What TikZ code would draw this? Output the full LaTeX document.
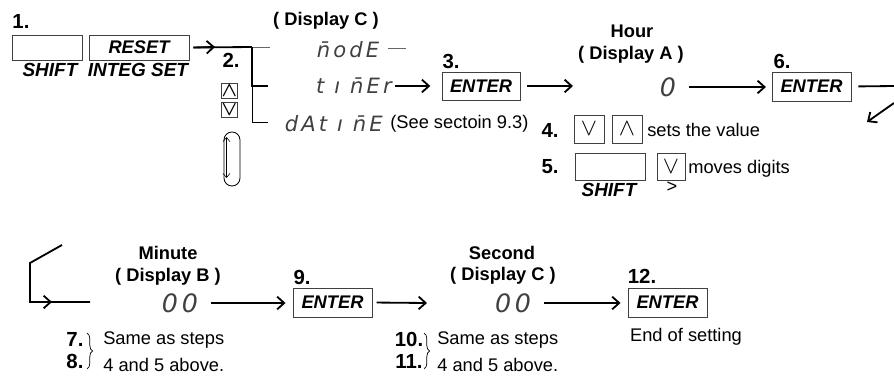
\documentclass[tikz,border=0pt]{standalone}
\usepackage{fontspec}
\setmainfont{Liberation Sans}
\newfontfamily\segfuente{DejaVu Sans}[LetterSpace=15]
\usetikzlibrary{arrows.meta, calc, positioning, decorations.pathreplacing}
\tikzset{
    tecla/.style={draw=black!75, line width=0.6pt, inner sep=0pt, font=\bfseries\itshape\fontsize{13}{13}\selectfont},
    flechita/.style={draw=black!75, line width=0.6pt, inner sep=0pt, font=\boldmath\fontsize{14}{14}\selectfont},
    flechota/.style={draw=black!75, line width=0.6pt, inner sep=0pt, font=\fontsize{17}{17}\selectfont},
    nombre/.style={font=\bfseries\itshape\fontsize{13.5}{13.5}\selectfont, inner sep=0pt},
    paso/.style={font=\bfseries\fontsize{14.5}{14.5}\selectfont, inner sep=0pt},
    rotulo/.style={font=\bfseries\fontsize{13}{13}\selectfont, inner sep=0pt},
    texto/.style={font=\fontsize{13}{13}\selectfont, inner sep=0pt},
    pantalla/.style={font=\segfuente\itshape\fontsize{15}{15}\selectfont, text=black!75, inner sep=0pt},
    digitos/.style={font=\segfuente\itshape\fontsize{18}{18}\selectfont, text=black!75, inner sep=0pt},
    flecha/.style={line width=1.3pt, -{Straight Barb[length=5pt,width=9pt]}},
    linea/.style={line width=1.3pt},
}

\begin{document}
\begin{tikzpicture}[x=0.025cm, y=-0.025cm]
\useasboundingbox (0,0) rectangle (894,381);

% Paso 1: SHIFT + RESET
\node[paso] (p1) at (21,21) {1.};
\node[tecla, minimum width=1.75cm, minimum height=0.625cm] (shift1) at (47,47.5) {};
\node[nombre] at (50,70) {SHIFT};
\node[tecla, minimum width=2.5cm, minimum height=0.625cm] (reset) at (139,47.5) {RESET};
\node[nombre] at (138,70) {INTEG SET};

% Paso 2: seleccion con las flechas
\node[paso] (p2) at (231,60) {2.};
\node[flechita, minimum size=0.375cm] (arriba2) at (229.5,90.5) {$\wedge$};
\node[flechita, minimum size=0.375cm] (abajo2) at (229.5,109.5) {$\vee$};
\draw[line width=0.6pt, rounded corners=0.2cm] (224,132) rectangle (240,186);
\draw[line width=0.4pt, {Straight Barb[length=3pt,width=5pt]}-{Straight Barb[length=3pt,width=5pt]}] (226.5,137) -- (226.5,178);

% Pantalla C: mode / timer / datime
\node[rotulo] (dispC) at (326,21) {( Display C )};
\node[pantalla] (modo) at (348,50) {n̄odE};
\node[pantalla, anchor=east] (timer) at (392,86) {t ı n̄Er};
\node[pantalla, anchor=east] (datime) at (383,124) {dAt ı n̄E};
\node[texto, right=5pt of datime] (ver) {(See sectoin 9.3)};

\coordinate (bus) at (252,47);
\coordinate (punta1) at (215,47);
\coordinate (ramaM) at (270,47);
\coordinate (ramaT) at (268,86);
\coordinate (ramaD) at (268,122);
\draw[linea] ($(reset.east)+(4,0)$) -- (bus);
\draw[flecha] ($(reset.east)+(4,0)$) -- (punta1);
\draw[line width=0.6pt, black!60] (bus) -- (ramaM);
\draw[linea] (bus) -- (bus |- ramaT) -- (ramaT);
\draw[line width=0.6pt] (bus |- ramaT) -- (bus |- ramaD) -- (ramaD);
\draw[line width=0.6pt, black!60] ($(modo.east)+(8,-2)$) -- ++(18,0);

% Paso 3: ENTER
\node[paso] (p3) at (451,61) {3.};
\node[tecla, minimum width=1.95cm, minimum height=0.7cm] (enter3) at (481,86) {ENTER};
\draw[flecha, shorten <=2pt, shorten >=8pt] (timer.east) -- (enter3.west |- timer.east);
\coordinate (llegaA) at (573,86);
\draw[flecha, shorten <=5pt] (enter3.east) -- (llegaA);

% Hora (pantalla A)
\node[rotulo] (hora) at (632,31) {Hour};
\node[rotulo] (dispA) at (631,55) {( Display A )};
\node[digitos] (cero) at (668,87) {0};

% Pasos 4 y 5
\node[paso] (p4) at (550,130) {4.};
\node[flechota, minimum width=0.75cm, minimum height=0.7cm] (abajo4) at (589,129) {$\vee$};
\node[flechota, minimum width=0.75cm, minimum height=0.7cm] (arriba4) at (627,129) {$\wedge$};
\node[texto, anchor=west] (valor) at (647,130) {sets the value};
\node[paso] (p5) at (550,167) {5.};
\node[tecla, minimum width=1.75cm, minimum height=0.675cm] (shift5) at (610,166.5) {};
\node[nombre] at (609,190) {SHIFT};
\node[flechota, minimum width=0.7cm, minimum height=0.675cm] (abajo5) at (671,166.5) {$\vee$};
\node[texto] at (672,187) {>};
\node[texto, anchor=west] (digitos) at (688,169) {moves digits};

% Paso 6: ENTER y regreso
\node[paso] (p6) at (782,61) {6.};
\node[tecla, minimum width=1.975cm, minimum height=0.725cm] (enter6) at (811.5,86.5) {ENTER};
\draw[flecha, shorten <=9pt, shorten >=4pt] (cero.east) -- (enter6.west |- cero.east);
\coordinate (borde) at (894,86);
\draw[linea, shorten <=5pt] (enter6.east) -- (borde);
\coordinate (regresoA) at (894,103);
\coordinate (regresoB) at (867,122);
\draw[flecha] (regresoA) -- (regresoB);

% Minuto (pantalla B)
\coordinate (entraA) at (62,245);
\coordinate (esquinaA) at (30,263);
\coordinate (esquinaB) at (30,302);
\coordinate (finB) at (90,302);
\draw[linea] (entraA) -- (esquinaA) -- (esquinaB) -- (finB);
\draw[flecha] (esquinaB) -- (52,302);
\node[rotulo] (minuto) at (168,253) {Minute};
\node[rotulo] (dispB) at (168,277) {( Display B )};
\node[digitos] (minB) at (180,303) {00};

\node[paso] (p9) at (302,277) {9.};
\node[tecla, minimum width=1.975cm, minimum height=0.725cm] (enter9) at (332.5,302.5) {ENTER};
\draw[flecha, shorten <=9pt, shorten >=5pt] (minB.east) -- (enter9.west |- minB.east);
\coordinate (llegaC) at (427,303);
\draw[flecha, shorten <=3pt] (enter9.east) -- (llegaC);

% Pasos 7 y 8
\node[paso] at (75,339) {7.};
\node[paso] at (75,361) {8.};
\draw[line width=0.5pt, decorate, decoration={brace, amplitude=4pt}] (87,333) -- (87,369);
\node[texto, anchor=west] at (103,340) {Same as steps};
\node[texto, anchor=west] at (103,365) {4 and 5 above.};

% Segundo (pantalla C)
\node[rotulo] (segundo) at (502,253) {Second};
\node[rotulo] (dispC2) at (503,276) {( Display C )};
\node[digitos] (segC) at (513,303) {00};

% Pasos 10 y 11
\node[paso] at (409,339) {10.};
\node[paso] at (409,361) {11.};
\draw[line width=0.5pt, decorate, decoration={brace, amplitude=4pt}] (424,333) -- (424,369);
\node[texto, anchor=west] at (437,340) {Same as steps};
\node[texto, anchor=west] at (437,365) {4 and 5 above.};

% Paso 12: fin
\node[paso] (p12) at (642,276) {12.};
\node[tecla, minimum width=1.975cm, minimum height=0.725cm] (enter12) at (667.5,302.5) {ENTER};
\draw[flecha, shorten <=9pt, shorten >=5pt] (segC.east) -- (enter12.west |- segC.east);
\node[texto] (fin) at (686,337) {End of setting};

\end{tikzpicture}
\end{document}
